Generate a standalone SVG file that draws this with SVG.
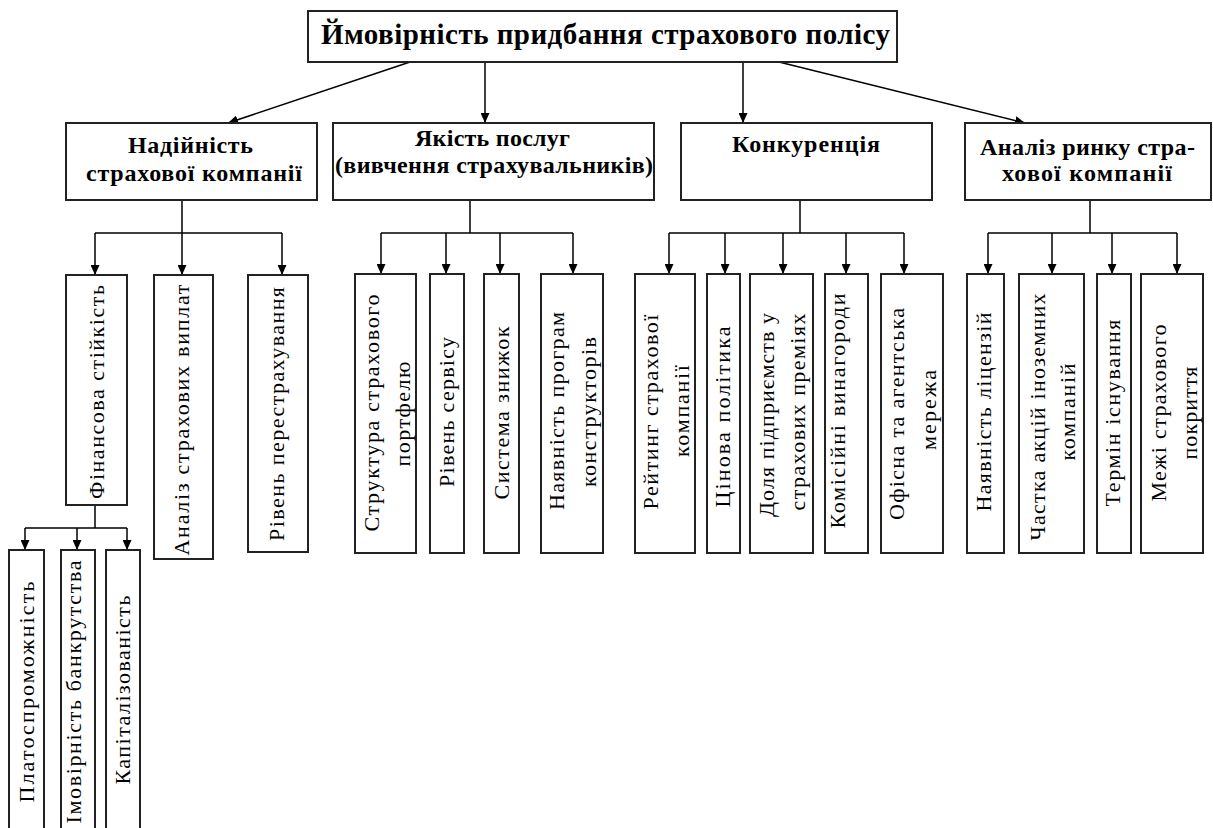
<svg xmlns="http://www.w3.org/2000/svg" width="1213" height="828" viewBox="0 0 1213 828">
<style>
.box{fill:#fff;stroke:#222;stroke-width:2}
.ln{fill:none;stroke:#000;stroke-width:1.5}
.ar{fill:none;stroke:#000;stroke-width:1.5;marker-end:url(#ah)}
.t0{font-family:"Liberation Serif","DejaVu Serif",serif;font-weight:bold;font-size:29px;fill:#000;text-anchor:middle}
.t1{font-family:"Liberation Serif","DejaVu Serif",serif;font-weight:bold;font-size:24px;fill:#000;text-anchor:middle}
.t2{font-family:"Liberation Serif","DejaVu Serif",serif;font-size:22px;fill:#000;text-anchor:middle;dominant-baseline:central}
</style>
<defs>
<marker id="ah" markerUnits="userSpaceOnUse" markerWidth="10" markerHeight="9" refX="10" refY="4.5" orient="auto" viewBox="0 0 10 9">
<path d="M0,0 L10,4.5 L0,9 z" fill="#000"/>
</marker>
</defs>
<rect width="1213" height="828" fill="#fff"/>

<g id="connectors">
<line class="ar" x1="410" y1="62" x2="228" y2="123"/>
<line class="ar" x1="485" y1="62" x2="485" y2="123"/>
<line class="ar" x1="743" y1="62" x2="743" y2="123"/>
<line class="ar" x1="779" y1="62" x2="1025" y2="123"/>

<path class="ln" d="M182,200 V233 M95,233 H282"/>
<line class="ar" x1="95" y1="233" x2="95" y2="275"/>
<line class="ar" x1="182" y1="233" x2="182" y2="275"/>
<line class="ar" x1="282" y1="233" x2="282" y2="275"/>

<path class="ln" d="M95,505 V528 M25,528 H127"/>
<line class="ar" x1="25" y1="528" x2="25" y2="550"/>
<line class="ar" x1="77" y1="528" x2="77" y2="550"/>
<line class="ar" x1="127" y1="528" x2="127" y2="550"/>

<path class="ln" d="M470,200 V233 M381,233 H573"/>
<line class="ar" x1="381" y1="233" x2="381" y2="274"/>
<line class="ar" x1="446" y1="233" x2="446" y2="274"/>
<line class="ar" x1="500" y1="233" x2="500" y2="274"/>
<line class="ar" x1="573" y1="233" x2="573" y2="274"/>

<path class="ln" d="M800,200 V233 M669,233 H904"/>
<line class="ar" x1="669" y1="233" x2="669" y2="274"/>
<line class="ar" x1="725" y1="233" x2="725" y2="274"/>
<line class="ar" x1="783" y1="233" x2="783" y2="274"/>
<line class="ar" x1="846" y1="233" x2="846" y2="274"/>
<line class="ar" x1="904" y1="233" x2="904" y2="274"/>

<path class="ln" d="M1090,200 V233 M988,233 H1177"/>
<line class="ar" x1="988" y1="233" x2="988" y2="274"/>
<line class="ar" x1="1052" y1="233" x2="1052" y2="274"/>
<line class="ar" x1="1112" y1="233" x2="1112" y2="274"/>
<line class="ar" x1="1177" y1="233" x2="1177" y2="274"/>
</g>

<g id="root">
<rect class="box" x="308" y="11" width="589" height="51"/>
<text class="t0" x="605.5" y="44" textLength="569">Ймовірність придбання страхового полісу</text>
</g>

<g id="n-reliability">
<rect class="box" x="66" y="123" width="251" height="77"/>
<text class="t1" x="190.5" y="153" textLength="125">Надійність</text>
<text class="t1" x="194" y="181" textLength="216">страхової компанії</text>
</g>
<g id="n-quality">
<rect class="box" x="333" y="123" width="321" height="77"/>
<text class="t1" x="492.5" y="146" textLength="155">Якість послуг</text>
<text class="t1" x="494" y="173" textLength="318">(вивчення страхувальників)</text>
</g>
<g id="n-competition">
<rect class="box" x="681" y="123" width="251" height="77"/>
<text class="t1" x="806" y="152" textLength="148">Конкуренція</text>
</g>
<g id="n-market">
<rect class="box" x="965" y="123" width="246" height="77"/>
<text class="t1" x="1087.5" y="155" textLength="215">Аналіз ринку стра-</text>
<text class="t1" x="1087" y="181" textLength="170">хової компанії</text>
</g>

<g id="l-fin">
<rect class="box" x="66" y="275" width="61" height="230"/>
<text class="t2" transform="translate(96,392) rotate(-90)" textLength="214">Фінансова стійкість</text>
</g>
<g id="l-payouts">
<rect class="box" x="154" y="275" width="59" height="284"/>
<text class="t2" transform="translate(181,420) rotate(-90)" textLength="271">Аналіз страхових виплат</text>
</g>
<g id="l-reins">
<rect class="box" x="248" y="275" width="60" height="277"/>
<text class="t2" transform="translate(276,414) rotate(-90)" textLength="254">Рівень перестрахування</text>
</g>
<g id="l-solv">
<rect class="box" x="9" y="550" width="35" height="284"/>
<text class="t2" transform="translate(26,692) rotate(-90)" textLength="221">Платоспроможність</text>
</g>
<g id="l-bankr">
<rect class="box" x="61" y="550" width="34" height="284"/>
<text class="t2" transform="translate(73,692) rotate(-90)" textLength="263">Імовірність банкрутства</text>
</g>
<g id="l-cap">
<rect class="box" x="106" y="550" width="34" height="284"/>
<text class="t2" transform="translate(122,690) rotate(-90)" textLength="189">Капіталізованість</text>
</g>

<g id="l-portf">
<rect class="box" x="355" y="274" width="61" height="279"/>
<text class="t2" transform="translate(371,413) rotate(-90)" textLength="237">Структура страхового</text>
<text class="t2" transform="translate(402,414) rotate(-90)" textLength="105">портфелю</text>
</g>
<g id="l-service">
<rect class="box" x="430" y="274" width="34" height="279"/>
<text class="t2" transform="translate(446,412) rotate(-90)" textLength="150">Рівень сервісу</text>
</g>
<g id="l-disc">
<rect class="box" x="484" y="274" width="35" height="279"/>
<text class="t2" transform="translate(501,413) rotate(-90)" textLength="173">Система знижок</text>
</g>
<g id="l-constr">
<rect class="box" x="541" y="274" width="62" height="279"/>
<text class="t2" transform="translate(556,411) rotate(-90)" textLength="198">Наявність програм</text>
<text class="t2" transform="translate(588,412) rotate(-90)" textLength="150">конструкторів</text>
</g>

<g id="l-rating">
<rect class="box" x="635" y="274" width="60" height="279"/>
<text class="t2" transform="translate(650,412) rotate(-90)" textLength="195">Рейтинг страхової</text>
<text class="t2" transform="translate(681,411) rotate(-90)" textLength="92">компанії</text>
</g>
<g id="l-price">
<rect class="box" x="707" y="274" width="33" height="279"/>
<text class="t2" transform="translate(722,417) rotate(-90)" textLength="181">Цінова політика</text>
</g>
<g id="l-share">
<rect class="box" x="750" y="274" width="63" height="279"/>
<text class="t2" transform="translate(766,415) rotate(-90)" textLength="204">Доля підприємств у</text>
<text class="t2" transform="translate(797,412) rotate(-90)" textLength="197">страхових преміях</text>
</g>
<g id="l-comm">
<rect class="box" x="825" y="274" width="43" height="279"/>
<text class="t2" transform="translate(837,411) rotate(-90)" textLength="235">Комісійні винагороди</text>
</g>
<g id="l-office">
<rect class="box" x="881" y="274" width="62" height="279"/>
<text class="t2" transform="translate(896,414) rotate(-90)" textLength="212">Офісна та агентська</text>
<text class="t2" transform="translate(928,410) rotate(-90)" textLength="80">мережа</text>
</g>

<g id="l-lic">
<rect class="box" x="967" y="274" width="37" height="279"/>
<text class="t2" transform="translate(983,412) rotate(-90)" textLength="199">Наявність ліцензій</text>
</g>
<g id="l-foreign">
<rect class="box" x="1019" y="274" width="65" height="279"/>
<text class="t2" transform="translate(1037,417) rotate(-90)" textLength="247">Частка акцій іноземних</text>
<text class="t2" transform="translate(1067,412) rotate(-90)" textLength="97">компаній</text>
</g>
<g id="l-term">
<rect class="box" x="1097" y="274" width="34" height="279"/>
<text class="t2" transform="translate(1112,413) rotate(-90)" textLength="187">Термін існування</text>
</g>
<g id="l-limits">
<rect class="box" x="1141" y="274" width="62" height="279"/>
<text class="t2" transform="translate(1158,413) rotate(-90)" textLength="177">Межі страхового</text>
<text class="t2" transform="translate(1189,413) rotate(-90)" textLength="93">покриття</text>
</g>
</svg>
